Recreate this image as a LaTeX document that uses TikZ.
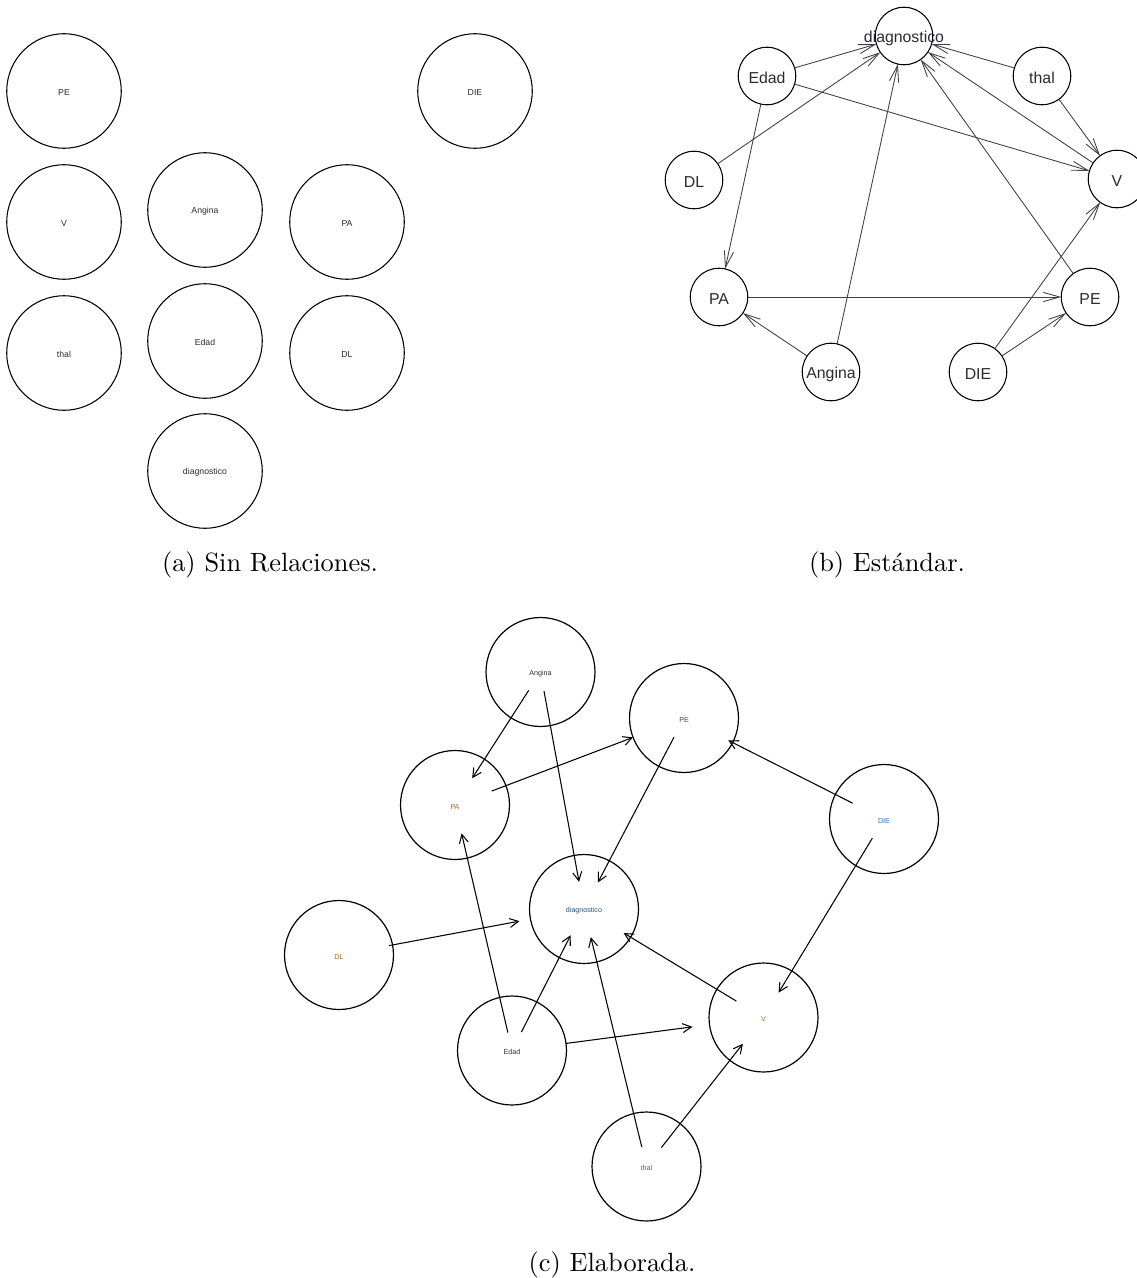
\documentclass[tikz,border=0pt]{standalone}
\usepackage{fontspec}
\newfontfamily\labfont{Liberation Sans}
\usetikzlibrary{arrows.meta}
\definecolor{laborange}{HTML}{B0641E}
\definecolor{labblue}{HTML}{2E68B0}
\definecolor{labdark}{HTML}{2A2A35}
\begin{document}
\begin{tikzpicture}[x=0.379pt,y=-0.379pt,
  circA/.style={circle,draw,line width=0.4pt,minimum size=43.4pt,inner sep=0pt,outer sep=0pt},
  circB/.style={circle,draw,line width=0.4pt,minimum size=21.8pt,inner sep=0pt,outer sep=0pt},
  circC/.style={circle,draw,line width=0.45pt,minimum size=41.3pt,inner sep=0pt,outer sep=0pt},
  labA/.style={inner sep=0pt,yshift=-0.5pt,text=labdark,font=\labfont\fontsize{3.3}{4}\selectfont},
  labB/.style={inner sep=0pt,yshift=-0.8pt,text=labdark,font=\labfont\fontsize{6}{7}\selectfont},
  labC/.style={inner sep=0pt,yshift=-0.7pt,font=\labfont\fontsize{2.7}{3.2}\selectfont},
  arrB/.style={line width=0.33pt,black!75,-{Straight Barb[length=6.2pt,width=3.5pt,line width=0.33pt]}},
  arrC/.style={line width=0.4pt,black,-{Straight Barb[length=3.3pt,width=3.4pt,line width=0.4pt]}},
  sh/.style 2 args={shorten <={#1*0.379pt},shorten >={#2*0.379pt}},
  capt/.style={anchor=base,inner sep=0pt,font=\fontsize{10}{12}\selectfont}
]
\useasboundingbox (0,0) rectangle (1137,1278);

% ---------------- (a) ----------------
\node[circA,label={[labA]center:PE}] (aPE) at (64,91) {};
\node[circA,label={[labA]center:DIE}] (aDIE) at (475,91) {};
\node[circA,label={[labA]center:V}] (aV) at (64,222) {};
\node[circA,label={[labA]center:Angina}] (aAng) at (205,210) {};
\node[circA,label={[labA]center:PA}] (aPA) at (347,222) {};
\node[circA,label={[labA]center:thal}] (athal) at (64,353) {};
\node[circA,label={[labA]center:Edad}] (aEdad) at (205,341) {};
\node[circA,label={[labA]center:DL}] (aDL) at (347,353) {};
\node[circA,label={[labA]center:diagnostico}] (adiag) at (205,471) {};
\node[capt] (capa) at (270,571) {(a) Sin Relaciones.};

% ---------------- (b) ----------------
\node[circB,label={[labB]center:diagnostico}] (bdiag) at (904,36) {};
\node[circB,label={[labB]center:Edad}] (bEdad) at (767,76) {};
\node[circB,label={[labB]center:thal}] (bthal) at (1042,76) {};
\node[circB,label={[labB]center:DL}] (bDL) at (694,180) {};
\node[circB,label={[labB]center:V}] (bV) at (1117,179) {};
\node[circB,label={[labB]center:PA}] (bPA) at (719,297) {};
\node[circB,label={[labB]center:PE}] (bPE) at (1090,297) {};
\node[circB,label={[labB]center:Angina}] (bAng) at (831,372) {};
\node[circB,label={[labB]center:DIE}] (bDIE) at (978,372) {};
\node[capt] (capb) at (887,571) {(b) Estándar.};

\draw[arrB] (bEdad) -- (bdiag);
\draw[arrB] (bEdad) -- (bV);
\draw[arrB] (bEdad) -- (bPA);
\draw[arrB] (bDL) -- (bdiag);
\draw[arrB] (bAng) -- (bdiag);
\draw[arrB] (bAng) -- (bPA);
\draw[arrB] (bPE) -- (bdiag);
\draw[arrB] (bthal) -- (bdiag);
\draw[arrB] (bthal) -- (bV);
\draw[arrB] (bV) -- (bdiag);
\draw[arrB] (bDIE) -- (bV);
\draw[arrB] (bDIE) -- (bPE);
\draw[arrB] (bPA) -- (bPE);

% ---------------- (c) ----------------
\node[circC,label={[labC,text=labdark]center:Angina}] (cAng) at (540.5,672) {};
\node[circC,label={[labC,text=laborange]center:PA}] (cPA) at (455,805) {};
\node[circC,label={[labC,text=labblue!70!black]center:PE}] (cPE) at (684,718) {};
\node[circC,label={[labC,text=labblue]center:DIE}] (cDIE) at (884,819) {};
\node[circC,label={[labC,text=labblue!75!black]center:diagnostico}] (cdiag) at (584,909) {};
\node[circC,label={[labC,text=laborange]center:DL}] (cDL) at (339,955) {};
\node[circC,label={[labC,text=labdark]center:Edad}] (cEdad) at (512,1050.5) {};
\node[circC,label={[labC,text=laborange]center:V}] (cV) at (763.5,1017.5) {};
\node[circC,label={[labC,text=labblue]center:thal}] (cthal) at (646.5,1166.5) {};
\node[capt] (capc) at (612,1271) {(c) Elaborada.};

\draw[arrC,sh={21.8}{31.8}] (cAng.center) -- (cPA.center);
\draw[arrC,sh={19.3}{27.6}] (cAng.center) -- (cdiag.center);
\draw[arrC,sh={39.3}{54.6}] (cPA.center) -- (cPE.center);
\draw[arrC,sh={21.7}{29.9}] (cPE.center) -- (cdiag.center);
\draw[arrC,sh={35.1}{49.5}] (cDIE.center) -- (cPE.center);
\draw[arrC,sh={22.5}{29.1}] (cDIE.center) -- (cV.center);
\draw[arrC,sh={50.9}{65.7}] (cDL.center) -- (cdiag.center);
\draw[arrC,sh={18.5}{29.1}] (cEdad.center) -- (cPA.center);
\draw[arrC,sh={20.7}{29.3}] (cEdad.center) -- (cdiag.center);
\draw[arrC,sh={54.3}{71.6}] (cEdad.center) -- (cV.center);
\draw[arrC,sh={31.7}{46.3}] (cV.center) -- (cdiag.center);
\draw[arrC,sh={20.1}{29.0}] (cthal.center) -- (cdiag.center);
\draw[arrC,sh={24.1}{33.4}] (cthal.center) -- (cV.center);
\end{tikzpicture}
\end{document}
